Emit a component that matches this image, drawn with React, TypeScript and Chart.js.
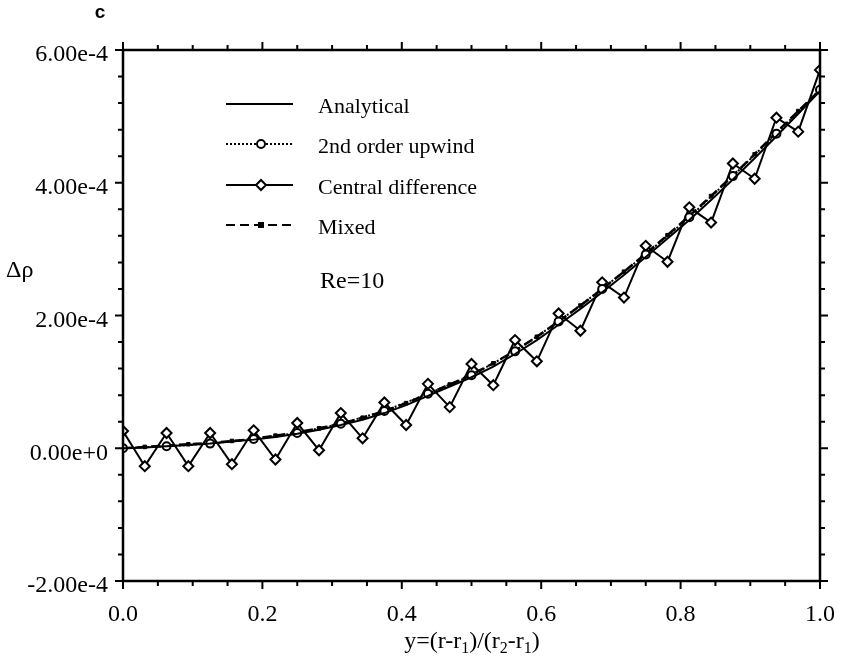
import React, { useEffect, useRef } from 'react';
import { Chart, registerables } from 'chart.js';
Chart.register(...registerables);

// x positions of the grid nodes
const X_FINE = [0, 0.03125, 0.0625, 0.09375, 0.125, 0.15625, 0.1875, 0.21875, 0.25, 0.28125, 0.3125, 0.34375, 0.375, 0.40625, 0.4375, 0.46875, 0.5, 0.53125, 0.5625, 0.59375, 0.625, 0.65625, 0.6875, 0.71875, 0.75, 0.78125, 0.8125, 0.84375, 0.875, 0.90625, 0.9375, 0.96875, 1.0];
const X_COARSE = [0, 0.0625, 0.125, 0.1875, 0.25, 0.3125, 0.375, 0.4375, 0.5, 0.5625, 0.625, 0.6875, 0.75, 0.8125, 0.875, 0.9375, 1.0];

// values in units of 1e-4
const ANALYTICAL = [0, 0.01, 0.03, 0.05, 0.07, 0.10, 0.13, 0.17, 0.22, 0.28, 0.35, 0.43, 0.53, 0.65, 0.79, 0.93, 1.07, 1.23, 1.42, 1.63, 1.86, 2.10, 2.35, 2.61, 2.88, 3.16, 3.44, 3.74, 4.05, 4.37, 4.70, 5.04, 5.38];
const UPWIND = [0, 0.03, 0.07, 0.14, 0.23, 0.37, 0.56, 0.82, 1.10, 1.46, 1.91, 2.40, 2.92, 3.48, 4.10, 4.74, 5.40];
const CENTRAL = [0.26, -0.27, 0.23, -0.27, 0.23, -0.24, 0.27, -0.17, 0.38, -0.03, 0.53, 0.15, 0.69, 0.35, 0.97, 0.62, 1.27, 0.95, 1.63, 1.31, 2.03, 1.77, 2.50, 2.27, 3.05, 2.81, 3.63, 3.40, 4.29, 4.06, 4.98, 4.77, 5.70];
const MIXED = [0, 0.02, 0.04, 0.06, 0.08, 0.11, 0.14, 0.19, 0.24, 0.30, 0.37, 0.46, 0.56, 0.68, 0.82, 0.96, 1.11, 1.28, 1.47, 1.68, 1.91, 2.15, 2.40, 2.66, 2.93, 3.21, 3.50, 3.80, 4.11, 4.43, 4.76, 5.08, 5.40];

const SERIES_NAMES = ['Analytical', '2nd order upwind', 'Central difference', 'Mixed'];
const Y_TICKS = [-2, 0, 2, 4, 6];
const Y_TICK_LABELS = ['-2.00e-4', '0.00e+0', '2.00e-4', '4.00e-4', '6.00e-4'];
const X_TICKS = [0, 0.2, 0.4, 0.6, 0.8, 1.0];
const X_TICK_LABELS = ['0.0', '0.2', '0.4', '0.6', '0.8', '1.0'];
const PANEL_LABEL = 'c';
const Y_TITLE = 'Δρ';
const ANNOTATION = 'Re=10';

const SERIF = "'Liberation Serif', 'Times New Roman', serif";

function drawMarker(ctx: CanvasRenderingContext2D, kind: string, x: number, y: number) {
  ctx.save();
  ctx.lineWidth = 2;
  ctx.strokeStyle = '#000';
  if (kind === 'circle') {
    ctx.fillStyle = '#fff';
    ctx.beginPath();
    ctx.arc(x, y, 4, 0, Math.PI * 2);
    ctx.fill();
    ctx.stroke();
  } else if (kind === 'diamond') {
    ctx.fillStyle = '#fff';
    ctx.beginPath();
    ctx.moveTo(x, y - 5);
    ctx.lineTo(x + 5, y);
    ctx.lineTo(x, y + 5);
    ctx.lineTo(x - 5, y);
    ctx.closePath();
    ctx.fill();
    ctx.stroke();
  } else if (kind === 'square') {
    ctx.fillStyle = '#000';
    ctx.fillRect(x - 3, y - 3, 6, 6);
  }
  ctx.restore();
}

const decorPlugin = {
  id: 'decor',
  afterDraw(chart: any) {
    const { ctx, chartArea: a, scales } = chart;
    const xs = scales.x;
    const ys = scales.y;
    ctx.save();
    ctx.strokeStyle = '#000';
    ctx.lineWidth = 2.5;
    ctx.strokeRect(a.left, a.top, a.right - a.left, a.bottom - a.top);

    // ticks (outward, major + minor)
    ctx.lineWidth = 2;
    ctx.beginPath();
    for (let i = 0; i <= 20; i++) {
      const px = xs.getPixelForValue(i * 0.05);
      const len = i % 4 === 0 ? 8 : 5;
      ctx.moveTo(px, a.bottom);
      ctx.lineTo(px, a.bottom + len);
      ctx.moveTo(px, a.top);
      ctx.lineTo(px, a.top - len);
    }
    for (let i = 0; i <= 20; i++) {
      const py = ys.getPixelForValue(-2 + i * 0.4);
      const len = i % 5 === 0 ? 8 : 5;
      ctx.moveTo(a.left, py);
      ctx.lineTo(a.left - len, py);
      ctx.moveTo(a.right, py);
      ctx.lineTo(a.right + len, py);
    }
    ctx.stroke();

    // x tick labels
    ctx.fillStyle = '#000';
    ctx.font = `24px ${SERIF}`;
    ctx.textAlign = 'center';
    ctx.textBaseline = 'alphabetic';
    X_TICKS.forEach((v, i) => {
      ctx.fillText(X_TICK_LABELS[i], xs.getPixelForValue(v), a.bottom + 40);
    });

    // panel label
    ctx.font = "bold 19px 'Liberation Sans', Arial, sans-serif";
    ctx.textAlign = 'center';
    ctx.textBaseline = 'middle';
    ctx.fillText(PANEL_LABEL, 100, 13);

    // y title
    ctx.font = `24px ${SERIF}`;
    ctx.textAlign = 'left';
    ctx.textBaseline = 'alphabetic';
    ctx.fillText(Y_TITLE, 6, 277);

    // annotation
    ctx.fillText(ANNOTATION, 320, 288);

    // x title with subscripts
    const parts: [string, boolean][] = [['y=(r-r', false], ['1', true], [')/(r', false], ['2', true], ['-r', false], ['1', true], [')', false]];
    const big = `24px ${SERIF}`;
    const small = `16px ${SERIF}`;
    let total = 0;
    for (const [t, sub] of parts) { ctx.font = sub ? small : big; total += ctx.measureText(t).width; }
    let cx = 472 - total / 2;
    for (const [t, sub] of parts) {
      ctx.font = sub ? small : big;
      ctx.fillText(t, cx, sub ? 653 : 648);
      cx += ctx.measureText(t).width;
    }

    // legend
    const rows = [104, 144, 185, 225];
    const dashes = [[], [2, 2], [], [9, 5]];
    const markers = ['', 'circle', 'diamond', 'square'];
    for (let i = 0; i < 4; i++) {
      const y = rows[i];
      ctx.save();
      ctx.lineWidth = 2;
      ctx.setLineDash(dashes[i]);
      ctx.beginPath();
      ctx.moveTo(226, y);
      ctx.lineTo(293, y);
      ctx.stroke();
      ctx.restore();
      if (markers[i]) drawMarker(ctx, markers[i], 261, y);
      ctx.font = `22px ${SERIF}`;
      ctx.textAlign = 'left';
      ctx.textBaseline = 'middle';
      ctx.fillStyle = '#000';
      ctx.fillText(SERIES_NAMES[i], 318, y + 3);
    }
    ctx.restore();
  },
};

export default function App() {
  const ref = useRef<HTMLCanvasElement>(null);
  useEffect(() => {
    if (!ref.current) return;
    const pts = (xv: number[], yv: number[]) => xv.map((x, i) => ({ x, y: yv[i] }));
    const chart = new Chart(ref.current, {
      type: 'line',
      data: {
        datasets: [
          {
            label: SERIES_NAMES[0],
            data: pts(X_FINE, ANALYTICAL),
            borderColor: '#000',
            borderWidth: 2,
            pointRadius: 0,
            tension: 0,
          },
          {
            label: SERIES_NAMES[1],
            data: pts(X_COARSE, UPWIND),
            borderColor: '#000',
            borderWidth: 2,
            borderDash: [2, 2],
            pointStyle: 'circle',
            pointRadius: 4,
            pointBorderWidth: 2,
            pointBackgroundColor: '#fff',
            pointBorderColor: '#000',
          },
          {
            label: SERIES_NAMES[2],
            data: pts(X_FINE, CENTRAL),
            borderColor: '#000',
            borderWidth: 2,
            pointStyle: 'rectRot',
            pointRadius: 5,
            pointBorderWidth: 2,
            pointBackgroundColor: '#fff',
            pointBorderColor: '#000',
          },
          {
            label: SERIES_NAMES[3],
            data: pts(X_FINE, MIXED),
            borderColor: '#000',
            borderWidth: 2.5,
            borderDash: [9, 5],
            pointStyle: 'rect',
            pointRadius: 2.5,
            pointBorderWidth: 1,
            pointBackgroundColor: '#000',
            pointBorderColor: '#000',
          },
        ],
      },
      options: {
        animation: false,
        responsive: true,
        maintainAspectRatio: false,
        layout: { padding: { left: 0, right: 26, top: 50, bottom: 0 } },
        plugins: { legend: { display: false }, tooltip: { enabled: false } },
        scales: {
          x: {
            type: 'linear',
            min: 0,
            max: 1,
            border: { display: false },
            grid: { display: false, drawTicks: false },
            afterBuildTicks: (s: any) => { s.ticks = X_TICKS.map((v) => ({ value: v })); },
            afterFit: (s: any) => { s.height = 84; },
            ticks: { display: false },
          },
          y: {
            type: 'linear',
            min: -2,
            max: 6,
            border: { display: false },
            grid: { display: false, drawTicks: false },
            afterBuildTicks: (s: any) => { s.ticks = Y_TICKS.map((v) => ({ value: v })); },
            afterFit: (s: any) => { s.width = 123; },
            ticks: {
              color: '#000',
              padding: 15,
              labelOffset: 5,
              autoSkip: false,
              font: { family: SERIF, size: 24 },
              callback: (_v: any, i: number) => Y_TICK_LABELS[i],
            },
          },
        },
      },
      plugins: [decorPlugin],
    } as any);
    return () => chart.destroy();
  }, []);
  return (
    <div style={{ position: 'fixed', left: 0, top: 0, width: 846, height: 665, background: '#fff' }}>
      <canvas ref={ref} />
    </div>
  );
}
